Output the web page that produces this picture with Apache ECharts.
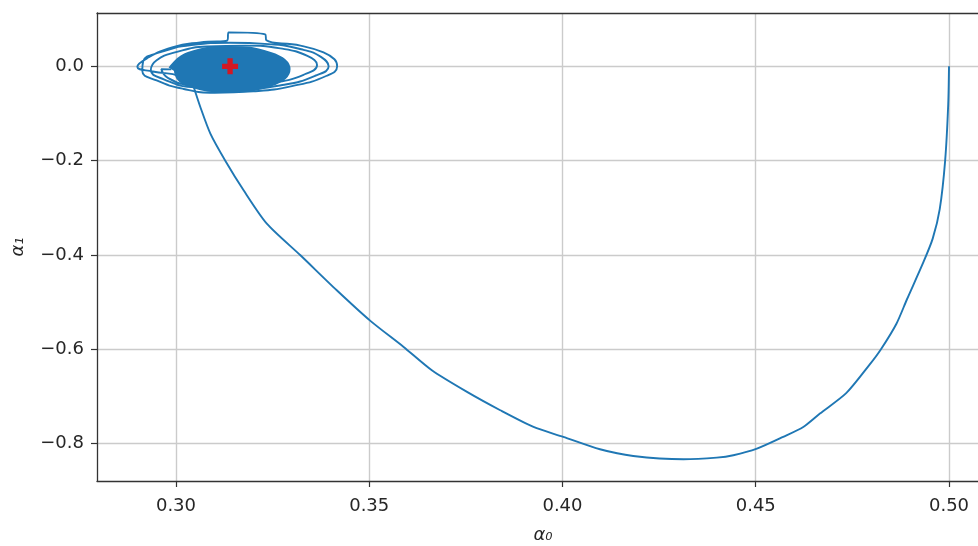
<!DOCTYPE html>
<html>
<head>
<meta charset="utf-8">
<script src="https://cdn.jsdelivr.net/npm/echarts@6/dist/echarts.min.js"></script>
<style>html,body{margin:0;padding:0;background:#fff}#c{width:978px;height:546px}</style>
</head>
<body>
<div id="c"></div>
<script>
// Axis limits and tick values
const xMin = 0.27957, xMax = 0.5075;
const yMin = -0.8796, yMax = 0.1131;
const xTicks = [0.30, 0.35, 0.40, 0.45, 0.50];
const yTicks = [-0.8, -0.6, -0.4, -0.2, 0.0];
const xName = 'α₀';
const yName = 'α₁';

// Trajectory from the start (0.5, 0) down to the minimum and back up
const mainPath = [
  [0.5000, 0.0000], [0.4998, -0.0800], [0.4990, -0.2000], [0.4976, -0.3030],
  [0.4958, -0.3650], [0.4934, -0.4150], [0.4891, -0.4946], [0.4864, -0.5460],
  [0.4824, -0.6000], [0.4793, -0.6344], [0.4734, -0.6933], [0.4666, -0.7366],
  [0.4623, -0.7650], [0.4571, -0.7860], [0.4503, -0.8110], [0.4442, -0.8250],
  [0.4399, -0.8300], [0.4313, -0.8335], [0.4183, -0.8265], [0.4097, -0.8123],
  [0.4002, -0.7860], [0.3925, -0.7650], [0.3839, -0.7296], [0.3753, -0.6907],
  [0.3662, -0.6448], [0.3589, -0.5953], [0.3503, -0.5400], [0.3416, -0.4751],
  [0.3322, -0.4008], [0.3235, -0.3337], [0.3175, -0.2630], [0.3128, -0.2008],
  [0.3089, -0.1428], [0.3063, -0.0863], [0.3046, -0.0439]
];

// Outer loops of the spiral around the fixed point
const spiralPath = [
  [0.3046, -0.0439], [0.3011, -0.0212], [0.2940, -0.0110], [0.2900, -0.0011],
  [0.2925, 0.0170], [0.2990, 0.0400], [0.3063, 0.0509], [0.3133, 0.0551],
  [0.3136, 0.0721], [0.3231, 0.0679], [0.3234, 0.0551], [0.3322, 0.0440],
  [0.3380, 0.0300], [0.3410, 0.0150], [0.3417, 0.0000], [0.3390, -0.0200],
  [0.3300, -0.0420], [0.3200, -0.0530], [0.3100, -0.0560], [0.3020, -0.0480],
  [0.2950, -0.0300], [0.2913, -0.0100], [0.2915, 0.0100], [0.2960, 0.0300],
  [0.3040, 0.0450], [0.3140, 0.0500], [0.3240, 0.0470], [0.3330, 0.0350],
  [0.3375, 0.0200], [0.3395, 0.0000], [0.3360, -0.0200], [0.3280, -0.0390],
  [0.3160, -0.0480], [0.3040, -0.0440], [0.2970, -0.0280], [0.2935, -0.0080],
  [0.2950, 0.0130], [0.3000, 0.0300], [0.3080, 0.0420], [0.3180, 0.0440],
  [0.3270, 0.0380], [0.3340, 0.0220], [0.3365, 0.0030], [0.3330, -0.0180],
  [0.3250, -0.0350], [0.3140, -0.0440], [0.3040, -0.0400], [0.2980, -0.0250],
  [0.2962, -0.0060], [0.2988, -0.0064]
];

// Dense inner loops (the solid core)
const corePath = [
  [0.2988, -0.0064], [0.3033, 0.0236], [0.3138, 0.0360], [0.3243, 0.0236],
  [0.3288, -0.0064], [0.3243, -0.0364], [0.3138, -0.0488], [0.3033, -0.0364],
  [0.3003, -0.0064], [0.3044, 0.0196], [0.3138, 0.0308], [0.3233, 0.0196],
  [0.3273, -0.0064], [0.3233, -0.0324], [0.3138, -0.0436], [0.3044, -0.0324],
  [0.3018, -0.0064], [0.3053, 0.0162], [0.3138, 0.0256], [0.3223, 0.0162],
  [0.3258, -0.0064], [0.3223, -0.0290], [0.3138, -0.0384], [0.3053, -0.0290],
  [0.3033, -0.0064], [0.3065, 0.0125], [0.3138, 0.0206], [0.3212, 0.0125],
  [0.3243, -0.0064], [0.3212, -0.0253], [0.3138, -0.0334], [0.3065, -0.0253],
  [0.3048, -0.0064], [0.3074, 0.0092], [0.3138, 0.0156], [0.3202, 0.0092],
  [0.3228, -0.0064], [0.3202, -0.0220], [0.3138, -0.0284], [0.3074, -0.0220],
  [0.3063, -0.0064], [0.3086, 0.0059], [0.3138, 0.0111], [0.3191, 0.0059],
  [0.3213, -0.0064], [0.3191, -0.0187], [0.3138, -0.0239], [0.3086, -0.0187],
  [0.3078, -0.0064], [0.3096, 0.0028], [0.3138, 0.0066], [0.3180, 0.0028],
  [0.3198, -0.0064], [0.3180, -0.0156], [0.3138, -0.0194], [0.3096, -0.0156],
  [0.3093, -0.0064], [0.3107, 0.0003], [0.3138, 0.0031], [0.3170, 0.0003],
  [0.3183, -0.0064], [0.3170, -0.0131], [0.3138, -0.0159], [0.3107, -0.0131],
  [0.3108, -0.0064], [0.3117, -0.0022], [0.3138, -0.0004], [0.3159, -0.0022],
  [0.3168, -0.0064], [0.3159, -0.0106], [0.3138, -0.0124], [0.3117, -0.0106],
  [0.3123, -0.0064], [0.3128, -0.0043], [0.3138, -0.0034], [0.3149, -0.0043],
  [0.3153, -0.0064], [0.3149, -0.0085], [0.3138, -0.0094], [0.3128, -0.0085],
  [0.3140, 0.0000]
];

// Fixed point marker
const fixedPoint = [[0.3140, 0.0000]];

const blue = '#1f77b4';
const chart = echarts.init(document.getElementById('c'), null, {renderer: 'canvas'});
const fmtY = v => (v < 0 ? '\u2212' + Math.abs(v).toFixed(1) : v.toFixed(1));
const gridLine = {show: true, lineStyle: {color: '#cbcbcb', width: 1.4}};
const labelFont = {fontFamily: 'DejaVu Sans', fontSize: 18, color: '#262626'};

chart.setOption({
  animation: false,
  backgroundColor: '#fff',
  grid: {left: 97, top: 13, right: 0, bottom: 65, containLabel: false, outerBoundsMode: 'none'},
  xAxis: [{
    type: 'value', position: 'bottom', min: xMin, max: xMax,
    axisLine: {show: true, onZero: false, lineStyle: {color: '#333', width: 1.3}},
    axisTick: {show: true, length: 6, customValues: xTicks, lineStyle: {color: '#333', width: 1.2}},
    axisLabel: Object.assign({customValues: xTicks, margin: 16, formatter: v => v.toFixed(2)}, labelFont),
    splitLine: gridLine,
    name: xName, nameLocation: 'middle', nameGap: 45,
    nameTextStyle: {fontFamily: 'DejaVu Sans', fontSize: 18, color: '#262626', fontStyle: 'italic', padding: [0, 0, 0, 11]}
  }, {
    type: 'value', position: 'top', min: xMin, max: xMax,
    axisLine: {show: true, onZero: false, lineStyle: {color: '#333', width: 1.3}},
    axisTick: {show: false}, axisLabel: {show: false}, splitLine: {show: false}
  }],
  yAxis: [{
    type: 'value', min: yMin, max: yMax,
    axisLine: {show: true, onZero: false, lineStyle: {color: '#333', width: 1.3}},
    axisTick: {show: true, length: 6, customValues: yTicks, lineStyle: {color: '#333', width: 1.2}},
    axisLabel: Object.assign({customValues: yTicks, margin: 13, formatter: fmtY}, labelFont),
    splitLine: gridLine,
    name: yName, nameLocation: 'middle', nameGap: 70, nameRotate: 90,
    nameTextStyle: {fontFamily: 'DejaVu Sans', fontSize: 18, color: '#262626', fontStyle: 'italic'}
  }],
  series: [
    {type: 'line', data: mainPath, showSymbol: false, smooth: 0.25, z: 3,
     lineStyle: {color: blue, width: 1.9}},
    {type: 'line', data: spiralPath, showSymbol: false, smooth: 0.5, z: 3,
     lineStyle: {color: blue, width: 1.9}},
    {type: 'line', data: corePath, showSymbol: false, smooth: 0.5, z: 3,
     lineStyle: {color: blue, width: 6.5}},
    {type: 'scatter', data: fixedPoint, z: 5,
     symbol: 'path://M4,0H8V4H12V8H8V12H4V8H0V4H4Z', symbolSize: 16,
     itemStyle: {color: 'red'}}
  ]
});
</script>
</body>
</html>
